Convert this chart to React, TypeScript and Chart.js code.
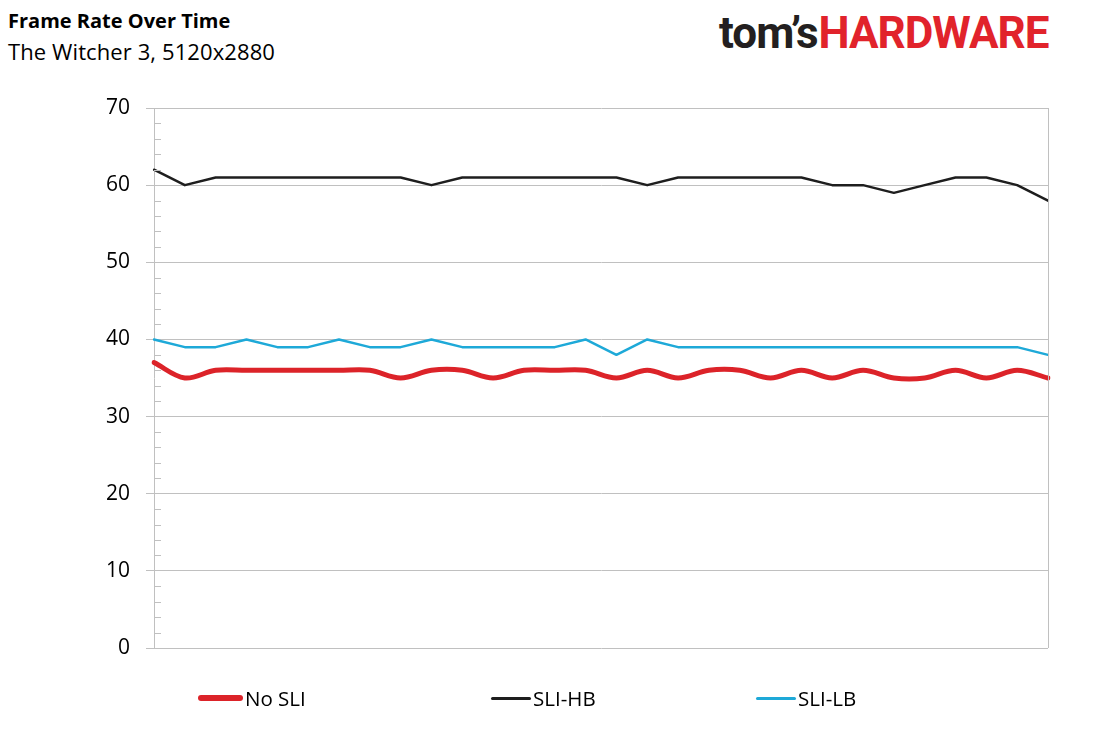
import React, { useEffect, useRef } from "react";
import { Chart, registerables } from "chart.js";

Chart.register(...registerables);

const timePoints: string[] = Array.from({ length: 30 }, (_, i) => String(i + 1));

const noSli: number[] = [37, 35, 36, 36, 36, 36, 36, 36, 35, 36, 36, 35, 36, 36, 36, 35, 36, 35, 36, 36, 35, 36, 35, 36, 35, 35, 36, 35, 36, 35];
const sliHb: number[] = [62, 60, 61, 61, 61, 61, 61, 61, 61, 60, 61, 61, 61, 61, 61, 61, 60, 61, 61, 61, 61, 61, 60, 60, 59, 60, 61, 61, 60, 58];
const sliLb: number[] = [40, 39, 39, 40, 39, 39, 40, 39, 39, 40, 39, 39, 39, 39, 40, 38, 40, 39, 39, 39, 39, 39, 39, 39, 39, 39, 39, 39, 39, 38];

const yMin = 0;
const yMax = 70;
const yStep = 10;

const seriesNames = ["No SLI", "SLI-HB", "SLI-LB"];
const seriesColors = ["#dc2329", "#1e1e1e", "#1ea9d8"];
const seriesWidths = [5, 2.5, 2.5];
const seriesTension = [0.35, 0, 0];
const seriesData = [noSli, sliHb, sliLb];

const FONT = "'Open Sans', 'DejaVu Sans', sans-serif";
const GRID = "#c0c0c0";

const frameMinorTicks = {
  id: "frameMinorTicks",
  afterDraw(chart: any) {
    const { ctx, chartArea } = chart;
    const y = chart.scales.y;
    ctx.save();
    ctx.strokeStyle = GRID;
    ctx.lineWidth = 1;
    ctx.beginPath();
    for (let v = yMin; v <= yMax; v += 2) {
      if (v % yStep === 0) continue;
      const py = Math.round(y.getPixelForValue(v)) + 0.5;
      ctx.moveTo(chartArea.left, py);
      ctx.lineTo(chartArea.left + 7, py);
    }
    ctx.stroke();
    ctx.beginPath();
    ctx.moveTo(Math.round(chartArea.right) + 0.5, chartArea.top);
    ctx.lineTo(Math.round(chartArea.right) + 0.5, chartArea.bottom);
    ctx.stroke();
    ctx.restore();
  },
};

export default function App() {
  const canvasRef = useRef<HTMLCanvasElement | null>(null);

  useEffect(() => {
    if (!canvasRef.current) return;
    const chart = new Chart(canvasRef.current, {
      type: "line",
      data: {
        labels: timePoints,
        datasets: seriesData.map((d, i) => ({
          label: seriesNames[i],
          data: d,
          borderColor: seriesColors[i],
          backgroundColor: seriesColors[i],
          borderWidth: seriesWidths[i],
          tension: seriesTension[i],
          pointRadius: 0,
          fill: false,
          borderCapStyle: "round" as const,
          borderJoinStyle: "round" as const,
          order: i === 0 ? 0 : 1,
        })),
      },
      options: {
        animation: false,
        responsive: false,
        maintainAspectRatio: false,
        devicePixelRatio: 1,
        layout: { padding: { left: 0, top: 108, right: 57, bottom: 104 } },
        plugins: {
          legend: { display: false },
          tooltip: { enabled: false },
          title: { display: false },
        },
        scales: {
          x: {
            display: false,
            offset: false,
          },
          y: {
            min: yMin,
            max: yMax,
            ticks: {
              stepSize: yStep,
              padding: 16,
              color: "#000",
              font: { family: FONT, size: 21 },
            },
            grid: { color: GRID, lineWidth: 1, tickLength: 8, drawTicks: true },
            border: { display: true, color: GRID, width: 1 },
            afterFit(scale: any) {
              scale.width = 154;
            },
          },
        },
      },
      plugins: [frameMinorTicks],
    });
    return () => chart.destroy();
  }, []);

  const legendX = [198, 491, 756];
  const legendW = [45, 40, 40];

  return (
    <div style={{ position: "absolute", left: 0, top: 0, width: 1105, height: 752, background: "#fff", overflow: "hidden", fontFamily: FONT }}>
      <div style={{ position: "absolute", left: 8, top: 7, fontSize: 20, fontWeight: 700, color: "#000", letterSpacing: 0, whiteSpace: "nowrap" }}>
        Frame Rate Over Time
      </div>
      <div style={{ position: "absolute", left: 8, top: 36, fontSize: 22, color: "#000", letterSpacing: 0.1, whiteSpace: "nowrap" }}>
        The Witcher 3, 5120x2880
      </div>
      <div style={{ position: "absolute", left: 719, top: 7, fontSize: 44, fontWeight: 700, letterSpacing: -1, whiteSpace: "nowrap", fontFamily: "Roboto, 'Open Sans', sans-serif" }}>
        <span style={{ color: "#231f20" }}>tom’s</span>
        <span style={{ color: "#e1232b", marginLeft: 1 }}>HARDWARE</span>
      </div>
      <canvas ref={canvasRef} width={1105} height={752} style={{ position: "absolute", left: 0, top: 0, width: 1105, height: 752 }} />
      {seriesNames.map((name, i) => (
        <div key={name} style={{ position: "absolute", left: legendX[i], top: 684, height: 28, display: "flex", alignItems: "center", whiteSpace: "nowrap" }}>
          <div style={{ width: legendW[i], height: seriesWidths[i] + (i === 0 ? 1 : 0.5), background: seriesColors[i], borderRadius: 4, marginRight: 2 }} />
          <span style={{ fontSize: 20.5, color: "#000" }}>{name}</span>
        </div>
      ))}
    </div>
  );
}
